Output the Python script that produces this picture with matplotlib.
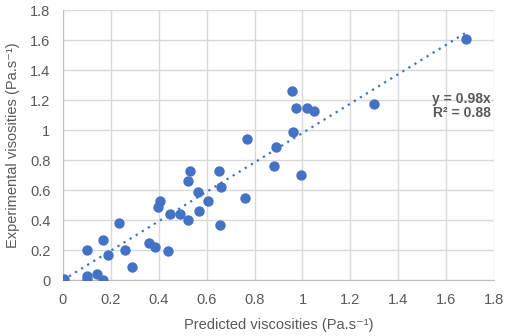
import numpy as np
import matplotlib
matplotlib.use("Agg")
import matplotlib.pyplot as plt

# Predicted vs experimental viscosities (Pa.s^-1)
predicted = [0.005, 0.10, 0.10, 0.10, 0.14, 0.165, 0.165, 0.19, 0.235, 0.26,
             0.29, 0.36, 0.385, 0.44, 0.395, 0.405, 0.445, 0.49, 0.52, 0.52,
             0.53, 0.565, 0.57, 0.605, 0.65, 0.66, 0.655, 0.76, 0.77, 0.88,
             0.89, 0.955, 0.96, 0.975, 0.995, 1.02, 1.05, 1.30, 1.685]
experimental = [0.01, 0.20, 0.03, 0.005, 0.04, 0.265, 0.0, 0.17, 0.38, 0.20,
                0.09, 0.25, 0.22, 0.195, 0.49, 0.53, 0.44, 0.44, 0.40, 0.66,
                0.725, 0.59, 0.46, 0.53, 0.73, 0.62, 0.365, 0.545, 0.94, 0.76,
                0.89, 1.26, 0.99, 1.15, 0.70, 1.15, 1.125, 1.175, 1.605]
slope = 0.98
r_squared = 0.88
ticks = [0, 0.2, 0.4, 0.6, 0.8, 1, 1.2, 1.4, 1.6, 1.8]

blue = "#4472C4"
text_grey = "#595959"

plt.rcParams["font.family"] = ["Liberation Sans", "DejaVu Sans"]

fig = plt.figure(figsize=(5.1, 3.36), dpi=100)
ax = fig.add_axes([63 / 510, 1 - 280 / 336, 431 / 510, 270 / 336])

ax.scatter(predicted, experimental, s=56, color=blue, zorder=3, linewidths=0)

# trend line through origin
xfit = np.array([0, max(predicted)])
ax.plot(xfit, slope * xfit, linestyle=(0, (1, 2.2)), color=blue, linewidth=1.6, zorder=2)

ax.set_xlim(0, 1.8)
ax.set_ylim(0, 1.8)
ax.set_xticks(ticks)
ax.set_yticks(ticks)
ax.set_xticklabels([f"{t:g}" for t in ticks])
ax.set_yticklabels([f"{t:g}" for t in ticks])
ax.tick_params(length=0, labelsize=10.5, colors=text_grey)
ax.tick_params(axis="x", pad=9)
ax.tick_params(axis="y", pad=9)
ax.grid(True, color="#d9d9d9", linewidth=1)
ax.set_axisbelow(True)
for side in ["top", "right"]:
    ax.spines[side].set_visible(False)
for side in ["left", "bottom"]:
    ax.spines[side].set_color("#bfbfbf")

ax.set_xlabel("Predicted viscosities (Pa.s⁻¹)", fontsize=10.5, color=text_grey, labelpad=8)
ax.set_ylabel("Experimental visosities (Pa.s⁻¹)", fontsize=10.5, color=text_grey, labelpad=7)

ax.text(1.785, 1.065, f"y = {slope}x\nR² = {r_squared}", ha="right", va="bottom",
        fontsize=10, fontweight="bold", color=text_grey, linespacing=1.05)

fig.savefig("out.png", dpi=100)
